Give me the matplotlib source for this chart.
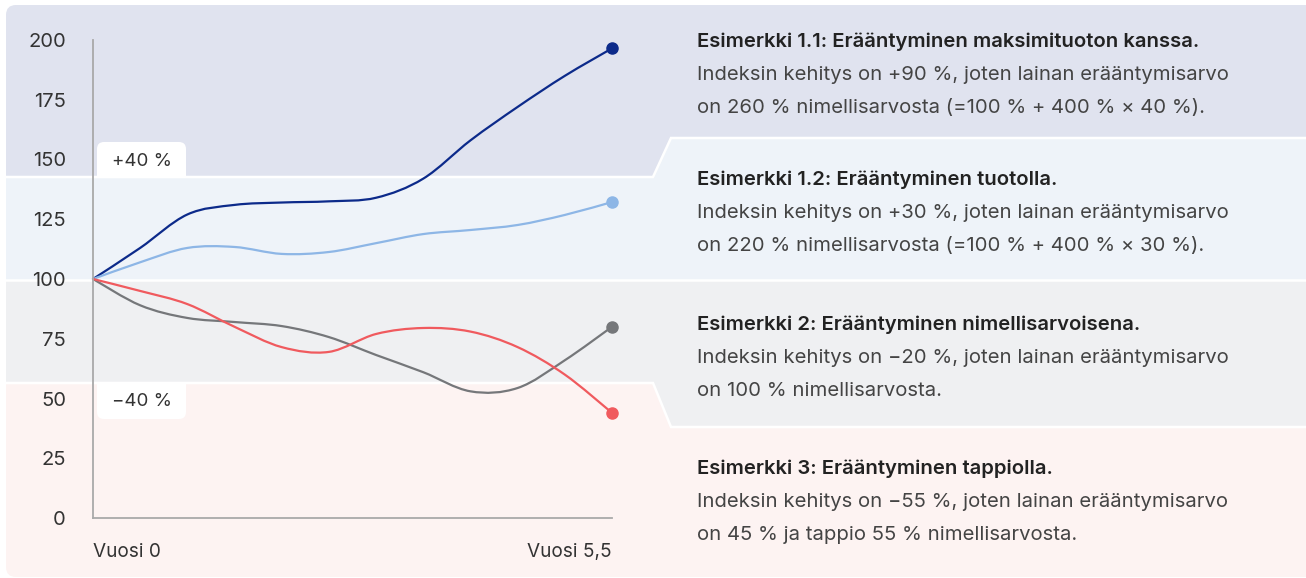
import numpy as np
import matplotlib.pyplot as plt
from matplotlib.path import Path
from matplotlib.patches import PathPatch, Polygon, FancyBboxPatch, Rectangle

plt.rcParams['font.family'] = ['Inter', 'DejaVu Sans']

# data: index value by year
years = [0, 0.5, 1, 1.5, 2, 2.5, 3, 3.5, 4, 4.5, 5, 5.5]
ex_11 = [100, 113, 127, 131, 132, 132.5, 134, 142, 158, 172, 185, 196.5]
ex_12 = [100, 107, 113, 113.4, 110.5, 111.3, 115, 118.8, 120.5, 122.6, 126.8, 132.2]
ex_2 = [100, 89, 83.7, 82, 80.3, 75.7, 68.2, 61, 53, 54.4, 66, 80]
ex_3 = [100, 95, 89.5, 80, 71.5, 69.5, 77, 79.5, 78, 71.5, 60, 44]

series_colors = ['#0c2a8a', '#8db6e6', '#75777a', '#f05a5e']
y_ticks = [0, 25, 50, 75, 100, 125, 150, 175, 200]
x_labels = ['Vuosi 0', 'Vuosi 5,5']
band_labels = ['+40 %', '\u221240 %']

texts = [
    ('Esimerkki 1.1: Erääntyminen maksimituoton kanssa.',
     'Indeksin kehitys on +90 %, joten lainan erääntymisarvo',
     'on 260 % nimellisarvosta (=100 % + 400 % × 40 %).'),
    ('Esimerkki 1.2: Erääntyminen tuotolla.',
     'Indeksin kehitys on +30 %, joten lainan erääntymisarvo',
     'on 220 % nimellisarvosta (=100 % + 400 % × 30 %).'),
    ('Esimerkki 2: Erääntyminen nimellisarvoisena.',
     'Indeksin kehitys on \u221220 %, joten lainan erääntymisarvo',
     'on 100 % nimellisarvosta.'),
    ('Esimerkki 3: Erääntyminen tappiolla.',
     'Indeksin kehitys on \u221255 %, joten lainan erääntymisarvo',
     'on 45 % ja tappio 55 % nimellisarvosta.'),
]


def smooth_path(x, y):
    # catmull-rom -> cubic bezier segments
    x = np.asarray(x, float)
    y = np.asarray(y, float)
    pts = np.column_stack([x, y])
    ext = np.vstack([pts[0], pts, pts[-1]])
    verts = [pts[0]]
    codes = [Path.MOVETO]
    for i in range(1, len(ext) - 2):
        p0, p1, p2, p3 = ext[i - 1], ext[i], ext[i + 1], ext[i + 2]
        c1 = p1 + (p2 - p0) / 6
        c2 = p2 - (p3 - p1) / 6
        verts += [c1, c2, p2]
        codes += [Path.CURVE4] * 3
    return Path(verts, codes)


W, H = 1306, 578
fig = plt.figure(figsize=(W / 100, H / 100), dpi=100)

# background in pixel coordinates
bg = fig.add_axes([0, 0, 1, 1])
bg.set_xlim(0, W)
bg.set_ylim(H, 0)
bg.axis('off')

frame = FancyBboxPatch((6, 5), W + 20, 572, boxstyle='round,pad=0,rounding_size=10',
                       facecolor='none', edgecolor='none')
bg.add_patch(frame)

bands = [
    ('#e0e3ef', [(6, 5), (W, 5), (W, 138), (671, 138), (653, 177), (6, 177)]),
    ('#eef3f9', [(6, 177), (653, 177), (671, 138), (W, 138), (W, 280), (6, 280)]),
    ('#eff0f2', [(6, 280), (W, 280), (W, 427), (671, 427), (653, 383), (6, 383)]),
    ('#fdf3f2', [(6, 383), (653, 383), (671, 427), (W, 427), (W, 577), (6, 577)]),
]
for color, poly in bands:
    p = Polygon(poly, closed=True, facecolor=color, edgecolor='none')
    bg.add_patch(p)
    p.set_clip_path(frame)

for line in [[(6, 177), (653, 177), (671, 138), (W, 138)],
             [(6, 280), (W, 280)],
             [(6, 383), (653, 383), (671, 427), (W, 427)]]:
    xs, ys = zip(*line)
    bg.plot(xs, ys, color='white', lw=1.8, solid_joinstyle='miter')

# +40 / -40 label tabs
bg.add_patch(FancyBboxPatch((97, 142), 89, 35, boxstyle='round,pad=0,rounding_size=7',
                            facecolor='white', edgecolor='none'))
bg.add_patch(Rectangle((97, 160), 89, 17, facecolor='white', edgecolor='none'))
bg.add_patch(FancyBboxPatch((97, 384), 89, 35, boxstyle='round,pad=0,rounding_size=7',
                            facecolor='white', edgecolor='none'))
bg.add_patch(Rectangle((97, 384), 89, 17, facecolor='white', edgecolor='none'))
bg.text(142, 161, band_labels[0], ha='center', va='center', fontsize=13.5, color='#333333')
bg.text(142, 402, band_labels[1], ha='center', va='center', fontsize=13.5, color='#333333')

# explanatory text
block_y = [42, 180, 325, 469]
for (title, l1, l2), y0 in zip(texts, block_y):
    bg.text(697, y0, title, ha='left', va='center', fontsize=14.6, fontweight='semibold',
            color='#222222')
    bg.text(697, y0 + 33, l1, ha='left', va='center', fontsize=14.6, color='#444444')
    bg.text(697, y0 + 66, l2, ha='left', va='center', fontsize=14.6, color='#444444')

# chart
ax = fig.add_axes([93 / W, 1 - 518 / H, (612 - 93) / W, (518 - 40) / H])
ax.set_facecolor('none')
ax.set_xlim(0, 5.5)
ax.set_ylim(0, 200)
for s in ['top', 'right']:
    ax.spines[s].set_visible(False)
for s in ['left', 'bottom']:
    ax.spines[s].set_color('#a9a9a9')
    ax.spines[s].set_linewidth(1.3)
ax.set_yticks(y_ticks)
ax.set_yticklabels([str(v) for v in y_ticks])
ax.tick_params(axis='y', length=0, pad=19.5, labelsize=14.5, labelcolor='#333333')
ax.set_xticks([0, 5.5])
ax.set_xticklabels(x_labels)
ax.tick_params(axis='x', length=0, pad=18, labelsize=13.7, labelcolor='#333333')
xl = ax.get_xticklabels()
xl[0].set_ha('left')
xl[1].set_ha('right')

for vals, col in zip([ex_11, ex_12, ex_2, ex_3], series_colors):
    ax.add_patch(PathPatch(smooth_path(years, vals), facecolor='none', edgecolor=col,
                           lw=1.6, clip_on=False, capstyle='round'))
    ax.plot(years[-1], vals[-1], 'o', color=col, ms=8, clip_on=False, zorder=5)

fig.savefig('out.png', dpi=100)
